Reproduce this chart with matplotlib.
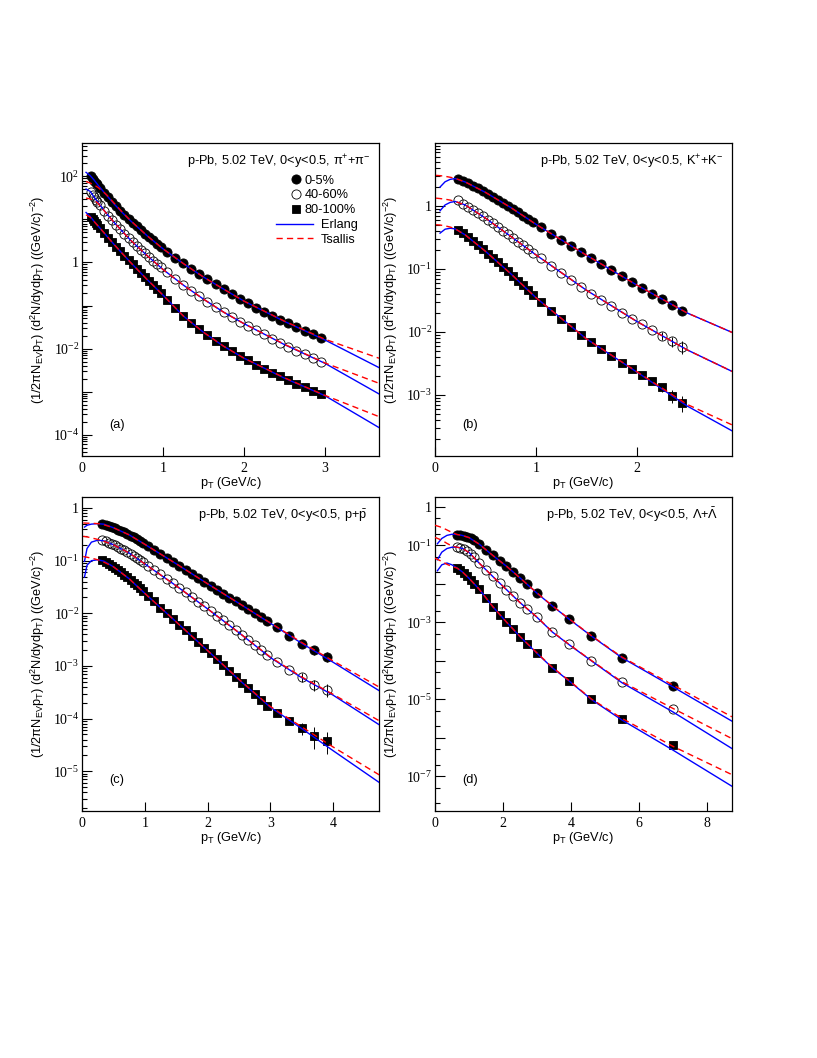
import numpy as np
import matplotlib
matplotlib.use('Agg')
import matplotlib.pyplot as plt
from matplotlib.ticker import LogLocator, FixedLocator, FuncFormatter, NullLocator
from matplotlib.lines import Line2D

plt.rcParams['font.family'] = ['Liberation Sans', 'DejaVu Sans']
plt.rcParams['mathtext.default'] = 'regular'

# ---------------- panel (a): pions ----------------
pt_pi = [0.11, 0.13, 0.15, 0.17, 0.19, 0.225, 0.275, 0.325, 0.375, 0.425, 0.475, 0.525, 0.575,
         0.625, 0.675, 0.725, 0.775, 0.825, 0.875, 0.925, 0.975, 1.05, 1.15, 1.25, 1.35, 1.45,
         1.55, 1.65, 1.75, 1.85, 1.95, 2.05, 2.15, 2.25, 2.35, 2.45, 2.55, 2.65, 2.75, 2.85, 2.95]
pi_0_5 = [100, 88, 79, 71, 65, 54, 42, 32.5, 25.3, 20.0, 15.9, 12.9, 10.4, 8.36, 6.87, 5.65, 4.64,
          3.88, 3.25, 2.72, 2.27, 1.77, 1.28, 0.948, 0.700, 0.526, 0.402, 0.308, 0.240, 0.187,
          0.143, 0.113, 0.0898, 0.0725, 0.0585, 0.0472, 0.0388, 0.0319, 0.0262, 0.0216, 0.0177]
pi_40_60 = [42.5, 36.8, 32.5, 28.7, 25.8, 21.2, 15.9, 12.2, 9.48, 7.38, 5.85, 4.64, 3.68, 2.97,
            2.40, 1.97, 1.62, 1.33, 1.09, 0.914, 0.765, 0.585, 0.417, 0.303, 0.219, 0.162, 0.122,
            0.0914, 0.0700, 0.0545, 0.0425, 0.0337, 0.0267, 0.0214, 0.0171, 0.0138, 0.0111,
            0.00898, 0.00731, 0.00596, 0.00490]
pi_80_100 = [11.1, 10.0, 8.98, 8.22, 7.38, 6.18, 4.81, 3.75, 2.92, 2.27, 1.80, 1.43, 1.13, 0.898,
             0.713, 0.575, 0.456, 0.368, 0.297, 0.240, 0.194, 0.1355, 0.0867, 0.0575, 0.0395,
             0.0282, 0.0204, 0.0151, 0.0113, 0.00867, 0.00675, 0.00535, 0.00425, 0.00343,
             0.00277, 0.00227, 0.00187, 0.00153, 0.00126, 0.00105, 0.000883]

pi_fit_pt = [0.05, 0.1, 0.15, 0.2, 0.3, 0.4, 0.5, 0.6, 0.8, 1.0, 1.25, 1.5, 1.75, 2.0, 2.5, 3.0, 3.67]
erl_pi_0_5 = [124, 105, 82, 62, 37, 22.5, 14.3, 9.3, 4.25, 2.08, 0.95, 0.46, 0.24, 0.127, 0.0428, 0.0159, 0.00361]
tsa_pi_0_5 = [76, 70, 63, 55, 38, 23.5, 14.6, 9.4, 4.25, 2.08, 0.95, 0.46, 0.24, 0.127, 0.0435, 0.0165, 0.00596]
erl_pi_40_60 = [50.7, 45, 33, 24.5, 13.9, 8.4, 5.25, 3.3, 1.47, 0.69, 0.30, 0.141, 0.070, 0.038, 0.0124, 0.00456, 0.000883]
tsa_pi_40_60 = [31.3, 30, 28, 23.5, 13.9, 8.4, 5.25, 3.3, 1.47, 0.69, 0.30, 0.141, 0.070, 0.038, 0.0126, 0.00464, 0.00156]
erl_pi_80_100 = [14.5, 11.8, 9.0, 7.0, 4.25, 2.57, 1.60, 1.0, 0.41, 0.175, 0.0575, 0.024, 0.0113, 0.0060, 0.00206, 0.000807, 0.000146]
tsa_pi_80_100 = [12.8, 11.3, 8.9, 7.0, 4.25, 2.57, 1.60, 1.0, 0.41, 0.175, 0.0575, 0.024, 0.0113, 0.0060, 0.0021, 0.00082, 0.000262]

# ---------------- panel (b): kaons ----------------
pt_k = [0.225, 0.275, 0.325, 0.375, 0.425, 0.475, 0.525, 0.575, 0.625, 0.675, 0.725, 0.775, 0.825,
        0.875, 0.925, 0.975, 1.05, 1.15, 1.25, 1.35, 1.45, 1.55, 1.65, 1.75, 1.85, 1.95, 2.05,
        2.15, 2.25, 2.35, 2.45]
k_0_5 = [2.65, 2.46, 2.26, 2.08, 1.88, 1.71, 1.55, 1.39, 1.245, 1.116, 1.0, 0.885, 0.784, 0.694,
         0.614, 0.544, 0.453, 0.360, 0.285, 0.229, 0.184, 0.148, 0.119, 0.0952, 0.0765, 0.0614,
         0.0499, 0.0406, 0.0330, 0.0268, 0.0218]
k_40_60 = [1.215, 1.076, 0.964, 0.864, 0.765, 0.677, 0.600, 0.524, 0.459, 0.401, 0.351, 0.307,
           0.268, 0.235, 0.205, 0.1795, 0.146, 0.1116, 0.0853, 0.0661, 0.0518, 0.0406, 0.0322,
           0.0255, 0.0203, 0.0163, 0.0132, 0.0108, 0.00875, 0.00711, 0.00578]
k_80_100 = [0.416, 0.364, 0.318, 0.275, 0.2375, 0.205, 0.175, 0.1495, 0.1276, 0.1089, 0.0918,
            0.0774, 0.0653, 0.0551, 0.0459, 0.0382, 0.0296, 0.0215, 0.0159, 0.01186, 0.00896,
            0.00685, 0.00531, 0.00416, 0.00326, 0.00259, 0.00208, 0.00167, 0.00132, 0.000976,
            0.000755]
k_40_60_err = [0] * 28 + [0.0014, 0.0013, 0.0013]
k_80_100_err = [0] * 28 + [0.0002, 0.00024, 0.00022]

k_fit_pt_erl = [0.05, 0.1, 0.15, 0.2, 0.3, 0.5, 0.75, 1.0, 1.5, 2.0, 2.5, 2.95]
erl_k_0_5 = [1.98, 2.40, 2.62, 2.70, 2.38, 1.63, 0.94, 0.51, 0.165, 0.0555, 0.0200, 0.00976]
erl_k_40_60 = [0.833, 1.03, 1.13, 1.17, 1.03, 0.637, 0.328, 0.167, 0.046, 0.0147, 0.0052, 0.00235]
erl_k_80_100 = [0.368, 0.425, 0.44, 0.43, 0.345, 0.19, 0.084, 0.035, 0.0078, 0.00232, 0.00067, 0.000268]
k_fit_pt_tsa = [0.01, 0.05, 0.1, 0.15, 0.2, 0.3, 0.5, 0.75, 1.0, 1.5, 2.0, 2.5, 2.95]
tsa_k_0_5 = [3.03, 3.0, 2.93, 2.83, 2.72, 2.38, 1.63, 0.94, 0.51, 0.165, 0.0555, 0.0200, 0.00976]
tsa_k_40_60 = [1.32, 1.30, 1.27, 1.23, 1.17, 1.03, 0.637, 0.328, 0.167, 0.046, 0.0147, 0.0052, 0.00235]
tsa_k_80_100 = [0.50, 0.495, 0.48, 0.46, 0.43, 0.345, 0.19, 0.084, 0.035, 0.0078, 0.00235, 0.00071, 0.000334]

# ---------------- panel (c): protons ----------------
pt_p = [0.325, 0.375, 0.425, 0.475, 0.525, 0.575, 0.625, 0.675, 0.725, 0.775, 0.825, 0.875, 0.925,
        0.975, 1.05, 1.15, 1.25, 1.35, 1.45, 1.55, 1.65, 1.75, 1.85, 1.95, 2.05, 2.15, 2.25, 2.35,
        2.45, 2.55, 2.65, 2.75, 2.85, 2.95, 3.1, 3.3, 3.5, 3.7, 3.9]
p_0_5 = [0.504, 0.482, 0.461, 0.435, 0.411, 0.387, 0.365, 0.345, 0.320, 0.298, 0.277, 0.257, 0.236,
         0.216, 0.192, 0.161, 0.1355, 0.1137, 0.0954, 0.0801, 0.0672, 0.0564, 0.0474, 0.0398,
         0.0334, 0.0280, 0.0235, 0.0197, 0.0168, 0.0143, 0.0122, 0.0102, 0.00859, 0.00721,
         0.00547, 0.00379, 0.00264, 0.00203, 0.00151]
p_40_60 = [0.243, 0.232, 0.219, 0.207, 0.195, 0.1815, 0.1686, 0.1567, 0.1457, 0.1334, 0.1223,
           0.1120, 0.1026, 0.0927, 0.0801, 0.0663, 0.0548, 0.0447, 0.0370, 0.0301, 0.0249,
           0.0203, 0.0166, 0.0135, 0.0110, 0.00898, 0.00731, 0.00588, 0.00480, 0.00385, 0.00314,
           0.00252, 0.00203, 0.00163, 0.00118, 0.000844, 0.000612, 0.000438, 0.000352]
p_80_100 = [0.1012, 0.0940, 0.0875, 0.0801, 0.0734, 0.0663, 0.0598, 0.0541, 0.0481, 0.0428,
            0.0380, 0.0339, 0.0297, 0.0261, 0.0215, 0.0168, 0.0129, 0.0101, 0.00787, 0.00605,
            0.00472, 0.00369, 0.00283, 0.00221, 0.00173, 0.00133, 0.00104, 0.000807, 0.000621,
            0.000485, 0.000378, 0.000295, 0.000227, 0.000177, 0.000130, 9.18e-5, 6.56e-5,
            4.70e-5, 3.83e-5]
p_0_5_err = [0] * 37 + [0.0004, 0.0003]
p_40_60_err = [0] * 36 + [0.00012, 0.0001, 0.0001]
p_80_100_err = [0] * 36 + [1.6e-5, 2.1e-5, 1.7e-5]

p_fit_pt_erl = [0.04, 0.08, 0.15, 0.25, 0.35, 0.5, 0.75, 1.0, 1.5, 2.0, 2.5, 3.0, 3.5, 4.0, 4.74]
erl_p_0_5 = [0.435, 0.47, 0.495, 0.505, 0.493, 0.423, 0.31, 0.205, 0.0875, 0.0365, 0.0155, 0.0065, 0.0027, 0.00118, 0.000337]
erl_p_40_60 = [0.097, 0.17, 0.225, 0.245, 0.238, 0.201, 0.14, 0.087, 0.0334, 0.0122, 0.0043, 0.00145, 0.0006, 0.00028, 7.6e-5]
erl_p_80_100 = [0.049, 0.082, 0.100, 0.104, 0.098, 0.0768, 0.0455, 0.0240, 0.0069, 0.00197, 0.00055, 0.000165, 6.5e-5, 2.47e-5, 6.09e-6]
p_fit_pt_tsa = [0.02, 0.1, 0.2, 0.3, 0.5, 0.75, 1.0, 1.5, 2.0, 2.5, 3.0, 3.5, 4.0, 4.74]
tsa_p_0_5 = [0.52, 0.515, 0.51, 0.50, 0.423, 0.31, 0.205, 0.0875, 0.0365, 0.0155, 0.0066, 0.0028, 0.00125, 0.000395]
tsa_p_40_60 = [0.29, 0.28, 0.262, 0.245, 0.201, 0.14, 0.087, 0.0334, 0.0122, 0.0043, 0.00148, 0.00062, 0.00029, 9.06e-5]
tsa_p_80_100 = [0.12, 0.115, 0.108, 0.10, 0.0768, 0.0455, 0.0240, 0.0069, 0.00197, 0.00056, 0.00017, 7.0e-5, 2.9e-5, 8.5e-6]

# ---------------- panel (d): lambdas ----------------
pt_l = [0.65, 0.75, 0.85, 0.95, 1.05, 1.15, 1.3, 1.5, 1.7, 1.9, 2.1, 2.3, 2.5, 2.7, 3.0, 3.45,
        3.95, 4.6, 5.5, 7.0]
l_0_5 = [0.1875, 0.184, 0.177, 0.1665, 0.1507, 0.1336, 0.1072, 0.0764, 0.0544, 0.0395, 0.0287,
         0.0204, 0.01425, 0.00995, 0.00569, 0.00266, 0.00120, 4.41e-4, 1.20e-4, 2.20e-5]
l_40_60 = [0.0896, 0.0861, 0.0795, 0.0705, 0.0601, 0.0502, 0.0344, 0.0230, 0.01545, 0.01035,
           0.00708, 0.00475, 0.00325, 0.00222, 0.00135, 5.49e-4, 2.73e-4, 1.00e-4, 2.74e-5, 5.55e-6]
l_80_100 = [0.0255, 0.0221, 0.0189, 0.01545, 0.0124, 0.00995, 0.00723, 0.00438, 0.00255, 0.00158,
            0.00102, 6.58e-4, 4.24e-4, 2.73e-4, 1.56e-4, 6.61e-5, 2.97e-5, 9.9e-6, 3.05e-6, 6.67e-7]
l_80_100_err = [0] * 18 + [0.6e-6, 1.6e-7]

l_fit_pt_erl = [0.07, 0.2, 0.35, 0.5, 0.65, 0.8, 1.0, 1.3, 1.7, 2.1, 2.5, 3.0, 3.45, 3.95, 4.6, 5.5, 7.0, 8.74]
erl_l_0_5 = [0.109, 0.15, 0.18, 0.193, 0.19, 0.18, 0.158, 0.107, 0.0544, 0.0287, 0.01425, 0.0057, 0.00266, 0.00120, 4.4e-4, 1.2e-4, 2.1e-5, 2.7e-6]
erl_l_40_60 = [0.042, 0.066, 0.082, 0.089, 0.089, 0.083, 0.065, 0.0344, 0.01545, 0.00708, 0.00325, 0.00135, 5.6e-4, 2.6e-4, 1.0e-4, 2.7e-5, 4.7e-6, 5.25e-7]
erl_l_80_100 = [0.0217, 0.031, 0.0345, 0.031, 0.0255, 0.0205, 0.0139, 0.00723, 0.00255, 0.00102, 4.24e-4, 1.56e-4, 6.6e-5, 2.97e-5, 9.9e-6, 2.9e-6, 4.8e-7, 5.5e-8]
l_fit_pt_tsa = [0.0, 0.2, 0.35, 0.5, 0.65, 0.8, 1.0, 1.3, 1.7, 2.1, 2.5, 3.0, 3.45, 3.95, 4.6, 5.5, 7.0, 8.74]
tsa_l_0_5 = [0.33, 0.29, 0.25, 0.215, 0.19, 0.18, 0.158, 0.107, 0.0544, 0.0287, 0.01425, 0.0058, 0.0027, 0.00122, 4.5e-4, 1.25e-4, 2.35e-5, 3.5e-6]
tsa_l_40_60 = [0.16, 0.135, 0.112, 0.095, 0.089, 0.083, 0.065, 0.0344, 0.01545, 0.00708, 0.00325, 0.00137, 5.7e-4, 2.65e-4, 1.02e-4, 2.85e-5, 5.8e-6, 9.5e-7]
tsa_l_80_100 = [0.046, 0.038, 0.032, 0.028, 0.0255, 0.0205, 0.0139, 0.00723, 0.00255, 0.00102, 4.3e-4, 1.6e-4, 6.8e-5, 3.05e-5, 1.02e-5, 3.2e-6, 6.0e-7, 1.1e-7]

centralities = ['0-5%', '40-60%', '80-100%']
fit_names = ['Erlang', 'Tsallis']
panel_titles = [r'p-Pb, 5.02 TeV, 0<y<0.5, $\pi^{+}$+$\pi^{-}$',
                r'p-Pb, 5.02 TeV, 0<y<0.5, K$^{+}$+K$^{-}$',
                r'p-Pb, 5.02 TeV, 0<y<0.5, p+$\bar{p}$',
                r'p-Pb, 5.02 TeV, 0<y<0.5, $\Lambda$+$\bar{\Lambda}$']
panel_tags = ['(a)', '(b)', '(c)', '(d)']

BLUE = '#0000ff'
RED = '#ff0000'
SANS = 9.2

fig = plt.figure(figsize=(8.17, 10.58), dpi=100)
W, H = 817.0, 1058.0


def rect(l, t, r, b):
    return [l / W, 1 - b / H, (r - l) / W, (b - t) / H]


axes = [fig.add_axes(rect(82, 143, 379, 456)),
        fig.add_axes(rect(435, 143, 731.7, 456)),
        fig.add_axes(rect(82, 497, 379, 811)),
        fig.add_axes(rect(435, 497, 731.7, 811))]

panels = [
    dict(pt=pt_pi, ys=[pi_0_5, pi_40_60, pi_80_100], errs=[None, None, None],
         ept=pi_fit_pt, erl=[erl_pi_0_5, erl_pi_40_60, erl_pi_80_100],
         tpt=pi_fit_pt, tsa=[tsa_pi_0_5, tsa_pi_40_60, tsa_pi_80_100],
         xlim=(0, 3.67), ylim=(3.19e-5, 596), xt=[0, 1, 2, 3], dec=(-5, 2), lab=[2, 0, -2, -4],
         subs=(2, 3, 4, 5, 6, 7, 8, 9), tx=0.973, ty=0.930),
    dict(pt=pt_k, ys=[k_0_5, k_40_60, k_80_100], errs=[None, k_40_60_err, k_80_100_err],
         ept=k_fit_pt_erl, erl=[erl_k_0_5, erl_k_40_60, erl_k_80_100],
         tpt=k_fit_pt_tsa, tsa=[tsa_k_0_5, tsa_k_40_60, tsa_k_80_100],
         xlim=(0, 2.942), ylim=(1.08e-4, 9.88), xt=[0, 1, 2], dec=(-4, 1), lab=[0, -1, -2, -3],
         subs=(2, 3, 4, 5, 6, 7, 8, 9), tx=0.970, ty=0.930),
    dict(pt=pt_p, ys=[p_0_5, p_40_60, p_80_100], errs=[p_0_5_err, p_40_60_err, p_80_100_err],
         ept=p_fit_pt_erl, erl=[erl_p_0_5, erl_p_40_60, erl_p_80_100],
         tpt=p_fit_pt_tsa, tsa=[tsa_p_0_5, tsa_p_40_60, tsa_p_80_100],
         xlim=(0, 4.733), ylim=(1.76e-6, 1.62), xt=[0, 1, 2, 3, 4], dec=(-6, 0), lab=[0, -1, -2, -3, -4, -5],
         subs=(2, 3, 4, 5, 6, 7, 8, 9), tx=0.9586, ty=0.929),
    dict(pt=pt_l, ys=[l_0_5, l_40_60, l_80_100], errs=[None, None, l_80_100_err],
         ept=l_fit_pt_erl, erl=[erl_l_0_5, erl_l_40_60, erl_l_80_100],
         tpt=l_fit_pt_tsa, tsa=[tsa_l_0_5, tsa_l_40_60, tsa_l_80_100],
         xlim=(0, 8.734), ylim=(1.25e-8, 1.79), xt=[0, 2, 4, 6, 8], dec=(-8, 0), lab=[0, -1, -3, -5, -7],
         subs=(2, 5), tx=0.954, ty=0.929),
]

marker_styles = [dict(marker='o', ms=6.6, mfc='black', mec='black', mew=0.6),
                 dict(marker='o', ms=6.6, mfc='none', mec='black', mew=0.6),
                 dict(marker='s', ms=6.0, mfc='black', mec='black', mew=0.6)]

ylabel = r'(1/2πN$_{EV}$p$_{T}$) (d$^{2}$N/dydp$_{T}$) ((GeV/c)$^{-2}$)'
xlabel = r'p$_{T}$ (GeV/c)'

for i, (ax, P) in enumerate(zip(axes, panels)):
    ax.set_yscale('log')
    for j in range(3):
        st = marker_styles[j]
        if P['errs'][j] is not None:
            ax.errorbar(P['pt'], P['ys'][j], yerr=P['errs'][j], fmt='none', ecolor='black',
                        elinewidth=0.7, capsize=0, zorder=2)
        ax.plot(P['pt'], P['ys'][j], linestyle='none', zorder=3, **st)
    for j in range(3):
        ax.plot(P['ept'], P['erl'][j], color=BLUE, lw=1.0, zorder=4)
        ax.plot(P['tpt'], P['tsa'][j], color=RED, lw=1.0, ls=(0, (4.5, 3)), zorder=4)
    ax.set_xlim(*P['xlim'])
    ax.set_ylim(*P['ylim'])
    lo, hi = P['dec']
    ax.yaxis.set_major_locator(FixedLocator([10.0 ** k for k in range(lo, hi + 1)]))
    ax.yaxis.set_minor_locator(LogLocator(base=10, subs=P['subs'], numticks=60))
    labs = P['lab']

    def fmt(v, pos, labs=labs):
        k = int(round(np.log10(v)))
        if k not in labs:
            return ''
        if k == 0:
            return '1'
        return r'$10^{%d}$' % k
    ax.yaxis.set_major_formatter(FuncFormatter(fmt))
    ax.yaxis.set_minor_formatter(FuncFormatter(lambda v, p: ''))
    ax.xaxis.set_major_locator(FixedLocator(P['xt']))
    ax.xaxis.set_minor_locator(NullLocator())
    ax.tick_params(axis='both', which='both', direction='in', top=False, right=False,
                   width=0.8, labelfontfamily='Liberation Serif')
    ax.tick_params(axis='y', which='major', length=7.5, pad=2, labelsize=10)
    ax.tick_params(axis='y', which='minor', length=3.6)
    ax.tick_params(axis='x', which='major', length=6.5, pad=4.5, labelsize=10)
    for sp in ax.spines.values():
        sp.set_linewidth(0.9)
    ax.set_ylabel(ylabel, fontsize=SANS)
    ax.yaxis.set_label_coords(-0.118, 0.5)
    ax.set_xlabel(xlabel, fontsize=SANS)
    ax.xaxis.set_label_coords(0.5, -0.062)
    ax.text(P['tx'], P['ty'], panel_titles[i], transform=ax.transAxes, ha='right',
            va='baseline', fontsize=SANS)
    ax.text(0.091, 0.099, panel_tags[i], transform=ax.transAxes, ha='left', va='center',
            fontsize=SANS)

# legend in panel (a)
ax = axes[0]
mk_handles = [Line2D([], [], linestyle='none', **marker_styles[j]) for j in range(3)]
leg1 = ax.legend(mk_handles, centralities, loc='upper left', bbox_to_anchor=(0.7034, 0.899),
                 frameon=False, fontsize=SANS, handlelength=0.8, handletextpad=0.3,
                 borderpad=0, borderaxespad=0, labelspacing=0.22, numpoints=1)
ax.add_artist(leg1)
ln_handles = [Line2D([], [], color=BLUE, lw=1.0), Line2D([], [], color=RED, lw=1.0, ls=(0, (4.5, 3)))]
ax.legend(ln_handles, fit_names, loc='upper left', bbox_to_anchor=(0.653, 0.757),
          frameon=False, fontsize=SANS, handlelength=2.9, handletextpad=0.6,
          borderpad=0, borderaxespad=0, labelspacing=0.22)

fig.savefig('out.png', dpi=100)
